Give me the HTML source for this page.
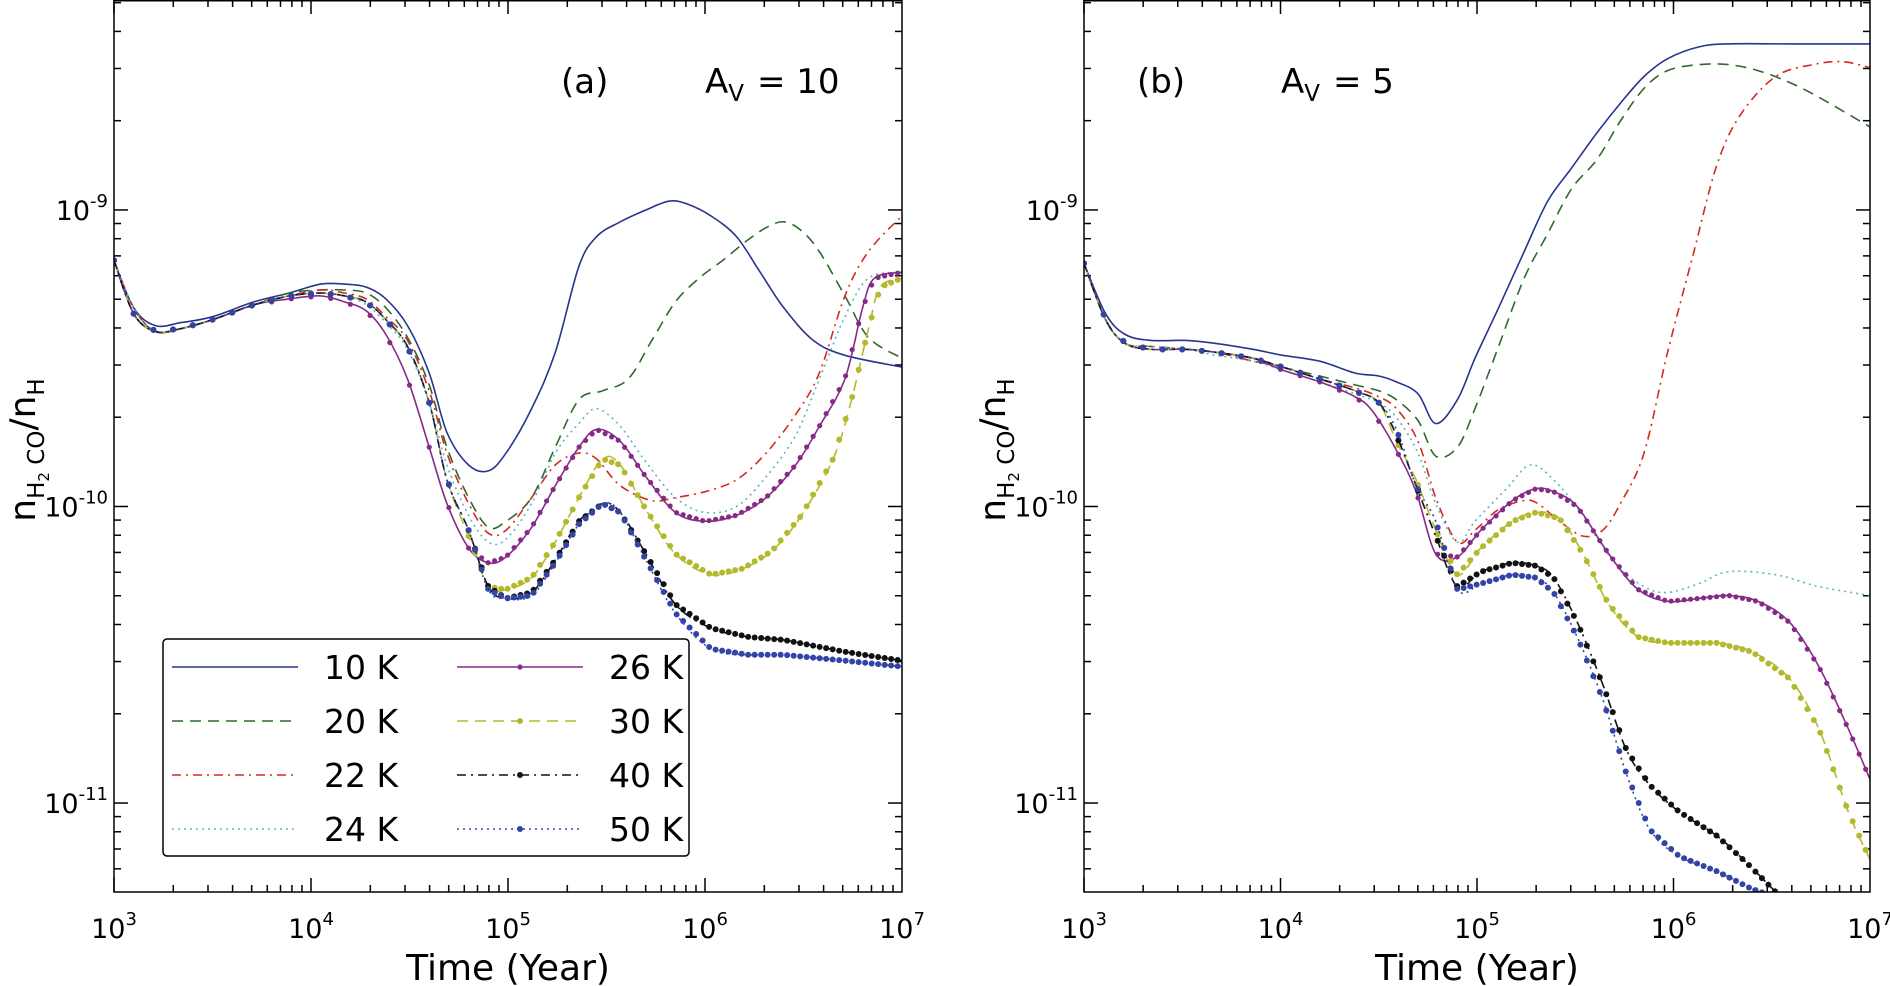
<!DOCTYPE html>
<html><head><meta charset="utf-8"><style>
html,body{margin:0;padding:0;background:#fff;}
svg{display:block;font-family:"DejaVu Sans","Liberation Sans",sans-serif;}
</style></head><body>
<svg id="chart" width="1890" height="986" viewBox="0 0 1890 986" xmlns="http://www.w3.org/2000/svg"></svg>
<script>
// ---- data: [log10(time/yr), log10(n_H2CO/n_H)] ----
const temps = ["10 K","20 K","22 K","24 K","26 K","30 K","40 K","50 K"];
const xTickExps = [3,4,5,6,7];
const yTickExps = [-9,-10,-11];
const panelATitle = "(a)";
const panelBTitle = "(b)";
const panelAAv = "10";
const panelBAv = "5";

const a10 = [[3.00,-9.17],[3.10,-9.33],[3.21,-9.39],[3.34,-9.38],[3.50,-9.36],[3.71,-9.31],[3.89,-9.28],[4.05,-9.25],[4.17,-9.25],[4.28,-9.26],[4.38,-9.30],[4.49,-9.39],[4.60,-9.55],[4.69,-9.75],[4.80,-9.86],[4.90,-9.88],[4.99,-9.82],[5.12,-9.67],[5.24,-9.48],[5.36,-9.19],[5.45,-9.09],[5.57,-9.04],[5.70,-9.00],[5.82,-8.97],[5.91,-8.98],[6.03,-9.02],[6.16,-9.09],[6.28,-9.21],[6.40,-9.33],[6.55,-9.44],[6.71,-9.49],[7.00,-9.53]];
const a20 = [[3.00,-9.17],[3.10,-9.33],[3.21,-9.41],[3.34,-9.40],[3.50,-9.37],[3.71,-9.32],[3.89,-9.28],[4.05,-9.27],[4.17,-9.27],[4.28,-9.28],[4.38,-9.33],[4.49,-9.43],[4.60,-9.59],[4.69,-9.80],[4.80,-9.97],[4.90,-10.07],[4.99,-10.05],[5.12,-9.97],[5.24,-9.80],[5.36,-9.64],[5.48,-9.61],[5.61,-9.57],[5.73,-9.44],[5.85,-9.31],[5.97,-9.23],[6.09,-9.17],[6.22,-9.10],[6.31,-9.06],[6.40,-9.04],[6.49,-9.07],[6.58,-9.14],[6.71,-9.29],[6.83,-9.43],[7.00,-9.50]];
const a22 = [[3.00,-9.17],[3.10,-9.33],[3.21,-9.41],[3.34,-9.40],[3.50,-9.37],[3.71,-9.32],[3.89,-9.29],[4.05,-9.27],[4.17,-9.28],[4.28,-9.30],[4.38,-9.36],[4.49,-9.44],[4.60,-9.61],[4.69,-9.82],[4.80,-9.99],[4.90,-10.09],[4.99,-10.08],[5.12,-9.97],[5.24,-9.86],[5.36,-9.82],[5.45,-9.84],[5.57,-9.93],[5.73,-9.98],[5.85,-9.97],[6.00,-9.95],[6.16,-9.91],[6.31,-9.82],[6.46,-9.69],[6.58,-9.55],[6.71,-9.29],[6.83,-9.14],[7.00,-9.02]];
const a24 = [[3.00,-9.17],[3.10,-9.33],[3.21,-9.41],[3.34,-9.40],[3.50,-9.37],[3.71,-9.32],[3.89,-9.29],[4.05,-9.28],[4.17,-9.29],[4.28,-9.32],[4.38,-9.38],[4.49,-9.47],[4.60,-9.65],[4.69,-9.86],[4.80,-10.03],[4.90,-10.12],[4.99,-10.11],[5.12,-9.99],[5.24,-9.82],[5.36,-9.72],[5.45,-9.67],[5.57,-9.73],[5.70,-9.85],[5.85,-9.97],[6.00,-10.02],[6.16,-10.00],[6.31,-9.90],[6.46,-9.76],[6.58,-9.57],[6.71,-9.36],[6.83,-9.23],[7.00,-9.21]];
const a26 = [[3.00,-9.17],[3.10,-9.35],[3.21,-9.41],[3.34,-9.40],[3.50,-9.37],[3.71,-9.32],[3.89,-9.30],[4.05,-9.29],[4.17,-9.31],[4.28,-9.34],[4.38,-9.42],[4.49,-9.57],[4.60,-9.80],[4.69,-9.99],[4.80,-10.14],[4.90,-10.19],[4.99,-10.17],[5.12,-10.07],[5.24,-9.93],[5.36,-9.80],[5.45,-9.74],[5.57,-9.78],[5.70,-9.90],[5.85,-10.02],[6.00,-10.05],[6.16,-10.03],[6.31,-9.97],[6.46,-9.86],[6.58,-9.73],[6.71,-9.57],[6.80,-9.33],[6.86,-9.23],[7.00,-9.21]];
const a30 = [[3.00,-9.17],[3.10,-9.35],[3.21,-9.41],[3.34,-9.40],[3.50,-9.37],[3.71,-9.32],[3.89,-9.29],[4.05,-9.28],[4.17,-9.29],[4.28,-9.31],[4.38,-9.37],[4.49,-9.46],[4.60,-9.65],[4.69,-9.91],[4.80,-10.10],[4.90,-10.27],[4.99,-10.28],[5.12,-10.24],[5.24,-10.12],[5.36,-9.97],[5.48,-9.84],[5.57,-9.86],[5.70,-10.01],[5.85,-10.16],[6.03,-10.23],[6.19,-10.21],[6.34,-10.15],[6.49,-10.03],[6.65,-9.84],[6.74,-9.65],[6.83,-9.40],[6.89,-9.26],[7.00,-9.23]];
const a40 = [[3.00,-9.17],[3.10,-9.35],[3.21,-9.41],[3.34,-9.40],[3.50,-9.37],[3.71,-9.32],[3.89,-9.29],[4.05,-9.28],[4.17,-9.29],[4.28,-9.31],[4.38,-9.37],[4.49,-9.46],[4.60,-9.65],[4.69,-9.91],[4.80,-10.08],[4.90,-10.27],[4.99,-10.31],[5.12,-10.29],[5.24,-10.18],[5.36,-10.05],[5.48,-9.99],[5.57,-10.02],[5.70,-10.16],[5.85,-10.33],[6.03,-10.41],[6.22,-10.44],[6.40,-10.45],[6.71,-10.49],[7.00,-10.52]];
const a50 = [[3.00,-9.17],[3.10,-9.35],[3.21,-9.41],[3.34,-9.40],[3.50,-9.37],[3.71,-9.32],[3.89,-9.29],[4.05,-9.28],[4.17,-9.29],[4.28,-9.31],[4.38,-9.37],[4.49,-9.46],[4.60,-9.65],[4.69,-9.91],[4.80,-10.08],[4.90,-10.28],[4.99,-10.31],[5.12,-10.30],[5.24,-10.19],[5.36,-10.06],[5.48,-9.99],[5.57,-10.02],[5.70,-10.18],[5.85,-10.36],[6.03,-10.48],[6.22,-10.50],[6.40,-10.50],[6.71,-10.52],[7.00,-10.54]];

const b10 = [[3.00,-9.18],[3.11,-9.35],[3.21,-9.42],[3.34,-9.44],[3.52,-9.44],[3.67,-9.45],[3.86,-9.47],[4.01,-9.49],[4.20,-9.51],[4.38,-9.55],[4.50,-9.56],[4.59,-9.58],[4.70,-9.62],[4.79,-9.72],[4.90,-9.64],[4.99,-9.50],[5.11,-9.33],[5.24,-9.14],[5.36,-8.97],[5.48,-8.86],[5.61,-8.74],[5.73,-8.64],[5.85,-8.55],[5.97,-8.49],[6.13,-8.45],[6.28,-8.44],[6.59,-8.44],[7.00,-8.44]];
const b20 = [[3.00,-9.18],[3.11,-9.37],[3.21,-9.45],[3.34,-9.46],[3.52,-9.47],[3.67,-9.48],[3.86,-9.50],[4.01,-9.53],[4.20,-9.56],[4.38,-9.59],[4.50,-9.61],[4.59,-9.64],[4.70,-9.71],[4.79,-9.83],[4.90,-9.80],[4.99,-9.67],[5.11,-9.46],[5.24,-9.23],[5.36,-9.08],[5.48,-8.93],[5.61,-8.83],[5.73,-8.70],[5.85,-8.59],[5.97,-8.53],[6.13,-8.51],[6.28,-8.51],[6.43,-8.53],[6.59,-8.57],[6.74,-8.62],[7.00,-8.72]];
const b22 = [[3.00,-9.18],[3.11,-9.37],[3.21,-9.45],[3.34,-9.46],[3.52,-9.47],[3.67,-9.48],[3.86,-9.51],[4.01,-9.53],[4.20,-9.57],[4.38,-9.60],[4.50,-9.63],[4.59,-9.67],[4.70,-9.78],[4.79,-9.97],[4.90,-10.12],[4.99,-10.08],[5.11,-10.01],[5.24,-9.98],[5.31,-9.99],[5.42,-10.05],[5.54,-10.10],[5.64,-10.08],[5.73,-9.99],[5.85,-9.82],[5.97,-9.48],[6.10,-9.15],[6.22,-8.85],[6.34,-8.68],[6.52,-8.55],[6.71,-8.51],[6.86,-8.50],[7.00,-8.52]];
const b24 = [[3.00,-9.18],[3.11,-9.37],[3.21,-9.45],[3.34,-9.46],[3.52,-9.47],[3.67,-9.49],[3.86,-9.51],[4.01,-9.54],[4.20,-9.58],[4.38,-9.62],[4.50,-9.65],[4.59,-9.70],[4.70,-9.82],[4.79,-9.99],[4.90,-10.12],[4.99,-10.05],[5.15,-9.94],[5.27,-9.86],[5.39,-9.91],[5.54,-10.03],[5.70,-10.19],[5.85,-10.27],[5.97,-10.29],[6.13,-10.26],[6.28,-10.22],[6.52,-10.23],[6.74,-10.27],[7.00,-10.30]];
const b26 = [[3.00,-9.18],[3.11,-9.37],[3.21,-9.45],[3.34,-9.47],[3.52,-9.47],[3.67,-9.48],[3.86,-9.50],[4.01,-9.54],[4.20,-9.58],[4.38,-9.63],[4.47,-9.68],[4.59,-9.81],[4.69,-9.95],[4.79,-10.16],[4.90,-10.17],[5.02,-10.08],[5.18,-9.98],[5.30,-9.94],[5.39,-9.95],[5.51,-10.00],[5.67,-10.16],[5.82,-10.28],[5.97,-10.32],[6.13,-10.31],[6.28,-10.30],[6.43,-10.32],[6.59,-10.39],[6.74,-10.54],[6.89,-10.75],[7.00,-10.92]];
const b30 = [[3.00,-9.18],[3.11,-9.37],[3.21,-9.45],[3.34,-9.47],[3.52,-9.47],[3.67,-9.48],[3.86,-9.50],[4.01,-9.53],[4.20,-9.57],[4.38,-9.61],[4.50,-9.65],[4.59,-9.78],[4.69,-9.91],[4.79,-10.08],[4.90,-10.23],[5.02,-10.14],[5.18,-10.05],[5.30,-10.02],[5.42,-10.04],[5.54,-10.16],[5.67,-10.33],[5.82,-10.44],[5.97,-10.46],[6.22,-10.46],[6.40,-10.49],[6.59,-10.58],[6.74,-10.75],[6.89,-11.03],[7.00,-11.19]];
const b40 = [[3.00,-9.18],[3.11,-9.37],[3.21,-9.45],[3.34,-9.47],[3.52,-9.47],[3.67,-9.48],[3.86,-9.50],[4.01,-9.53],[4.20,-9.57],[4.38,-9.61],[4.50,-9.65],[4.59,-9.76],[4.69,-9.93],[4.79,-10.10],[4.90,-10.27],[5.02,-10.22],[5.18,-10.19],[5.30,-10.20],[5.39,-10.24],[5.51,-10.39],[5.64,-10.60],[5.76,-10.82],[5.88,-10.94],[6.03,-11.03],[6.22,-11.11],[6.37,-11.20],[6.52,-11.30]];
const b50 = [[3.00,-9.18],[3.11,-9.37],[3.21,-9.45],[3.34,-9.47],[3.52,-9.47],[3.67,-9.48],[3.86,-9.50],[4.01,-9.53],[4.20,-9.57],[4.38,-9.61],[4.50,-9.65],[4.59,-9.74],[4.69,-9.93],[4.79,-10.05],[4.90,-10.28],[5.02,-10.26],[5.18,-10.23],[5.30,-10.24],[5.39,-10.29],[5.51,-10.44],[5.64,-10.65],[5.76,-10.90],[5.88,-11.09],[6.03,-11.18],[6.22,-11.23],[6.40,-11.29],[6.49,-11.31]];

const panelASeries = [a10,a20,a22,a24,a26,a30,a40,a50];
const panelBSeries = [b10,b20,b22,b24,b26,b30,b40,b50];

// ---- styles ----
const styles = [
 {c:"#28358f",dash:"",mk:0},
 {c:"#2f6a2c",dash:"11,7",mk:0},
 {c:"#d42a22",dash:"9,5,2,5",mk:0},
 {c:"#57b9bb",dash:"2,4",mk:0},
 {c:"#862a88",dash:"",mk:2.6},
 {c:"#b4b92c",dash:"11,7",mk:3},
 {c:"#111111",dash:"9,5,2,5",mk:3},
 {c:"#3343a6",dash:"2,4",mk:3}
];
const NS="http://www.w3.org/2000/svg";
const svg=document.getElementById('chart');
function mk(tag,attrs,parent){const e=document.createElementNS(NS,tag);for(const k in attrs)e.setAttribute(k,attrs[k]);(parent||svg).appendChild(e);return e;}

const Y0=-8.292, Y1=-11.30, TOP=0, BOT=892;
function yScale(v){return TOP+(Y0-v)/(Y0-Y1)*(BOT-TOP);}

function smoothPath(pts){
  let d="M"+pts[0][0].toFixed(1)+","+pts[0][1].toFixed(1);
  for(let i=0;i<pts.length-1;i++){
    const p0=pts[Math.max(0,i-1)],p1=pts[i],p2=pts[i+1],p3=pts[Math.min(pts.length-1,i+2)];
    const c1x=p1[0]+(p2[0]-p0[0])/6,c1y=p1[1]+(p2[1]-p0[1])/6;
    const c2x=p2[0]-(p3[0]-p1[0])/6,c2y=p2[1]-(p3[1]-p1[1])/6;
    d+=" C"+c1x.toFixed(1)+","+c1y.toFixed(1)+" "+c2x.toFixed(1)+","+c2y.toFixed(1)+" "+p2[0].toFixed(1)+","+p2[1].toFixed(1);
  }
  return d;
}
function interpAt(series,t){
  for(let i=0;i<series.length-1;i++){
    if(t>=series[i][0]&&t<=series[i+1][0]){const f=(t-series[i][0])/(series[i+1][0]-series[i][0]);return series[i][1]+f*(series[i+1][1]-series[i][1]);}
  }
  return null;
}

function drawPanel(id,L,R,seriesList,title,av,titleX,avX){
  const g=mk('g',{});
  
  
  const xScale=v=>L+(v-3)/4*(R-L);
  const clip=mk('clipPath',{id:id+'-clip'},g);
  mk('rect',{x:L,y:TOP,width:R-L,height:BOT-TOP},clip);
  const tg=mk('g',{stroke:'#000','stroke-width':1.5},g);
  
  
  for(let e=3;e<7;e++)for(let m=1;m<10;m++){
    const x=xScale(e+Math.log10(m));const len=m===1?14:7;
    mk('line',{x1:x,y1:BOT,x2:x,y2:BOT-len},tg);mk('line',{x1:x,y1:TOP,x2:x,y2:TOP+len},tg);
  }
  for(let e=-12;e<=-9;e++)for(let m=1;m<10;m++){
    const v=e+Math.log10(m);if(v>Y0||v<Y1)continue;const y=yScale(v);const len=m===1?14:7;
    mk('line',{x1:L,y1:y,x2:L+len,y2:y},tg);mk('line',{x1:R,y1:y,x2:R-len,y2:y},tg);
  }
  const sg=mk('g',{'clip-path':'url(#'+id+'-clip)'},g);
  seriesList.forEach((s,i)=>{
    const st=styles[i];
    const pts=s.map(p=>[xScale(p[0]),yScale(p[1])]);
    const p=mk('path',{d:smoothPath(pts),fill:'none',stroke:st.c,'stroke-width':1.6,'stroke-dasharray':st.dash},sg);
    
    
    if(st.mk){
      const t0=s[0][0],t1=s[s.length-1][0];
      for(let t=t0;t<=t1+1e-9;t+=(t<4.75?0.1:0.033)){
        const v=interpAt(s,Math.min(t,t1));if(v===null)continue;
        const c=mk('circle',{cx:xScale(Math.min(t,t1)),cy:yScale(v),r:st.mk,fill:st.c},sg);
        
        
      }
    }
  });
  const fr=mk('rect',{x:L,y:TOP+0.75,width:R-L,height:BOT-TOP-0.75,fill:'none',stroke:'#000','stroke-width':1.5},g);
  
  
  xTickExps.forEach(e=>{
    const t=mk('text',{x:xScale(e),y:938,'text-anchor':'middle','font-size':27},g);
    
    
    t.innerHTML='10<tspan dy="-13" font-size="18">'+e+'</tspan>';
  });
  yTickExps.forEach(e=>{
    const t=mk('text',{x:L-6,y:yScale(e)+10,'text-anchor':'end','font-size':27},g);
    
    
    t.innerHTML='10<tspan dy="-13" font-size="18">'+e+'</tspan>';
  });
  const xt=mk('text',{x:(L+R)/2,y:980,'text-anchor':'middle','font-size':36},g);
  
  
  xt.textContent='Time (Year)';
  const yt=mk('text',{transform:'translate('+(L-79)+',450) rotate(-90)','text-anchor':'middle','font-size':36},g);
  
  
  yt.innerHTML='n<tspan dy="9" font-size="23">H</tspan><tspan dy="5" font-size="15">2</tspan><tspan dy="-5" font-size="23"> CO</tspan><tspan dy="-9">/n</tspan><tspan dy="9" font-size="23">H</tspan>';
  const an=mk('text',{x:titleX,y:93,'font-size':34},g);
  
  
  an.textContent=title;
  const av1=mk('text',{x:avX,y:93,'font-size':34},g);
  
  
  av1.innerHTML='A<tspan dy="8" font-size="23">V</tspan><tspan dy="-8" x="'+(avX+52)+'">= '+av+'</tspan>';
  return xScale;
}

drawPanel('panel-a',114,902,panelASeries,panelATitle,panelAAv,561,705);
drawPanel('panel-b',1084,1870,panelBSeries,panelBTitle,panelBAv,1137,1281);

const lg=mk('g',{});


mk('rect',{x:163,y:639,width:526,height:217,rx:4,fill:'#fff',stroke:'#000','stroke-width':1.5},lg);
temps.forEach((lab,i)=>{
  const col=Math.floor(i/4),row=i%4;
  const y=667+row*54;
  const x0=col?457:172,x1=col?583:298,tx=col?609:324;
  const st=styles[i];
  const e=mk('g',{},lg);
  
  
  mk('line',{x1:x0,y1:y,x2:x1,y2:y,stroke:st.c,'stroke-width':1.6,'stroke-dasharray':st.dash},e);
  if(st.mk)mk('circle',{cx:(x0+x1)/2,cy:y,r:st.mk,fill:st.c},e);
  const t=mk('text',{x:tx,y:y+12,'font-size':33},e);
  t.textContent=lab;
});
</script>
</body></html>
